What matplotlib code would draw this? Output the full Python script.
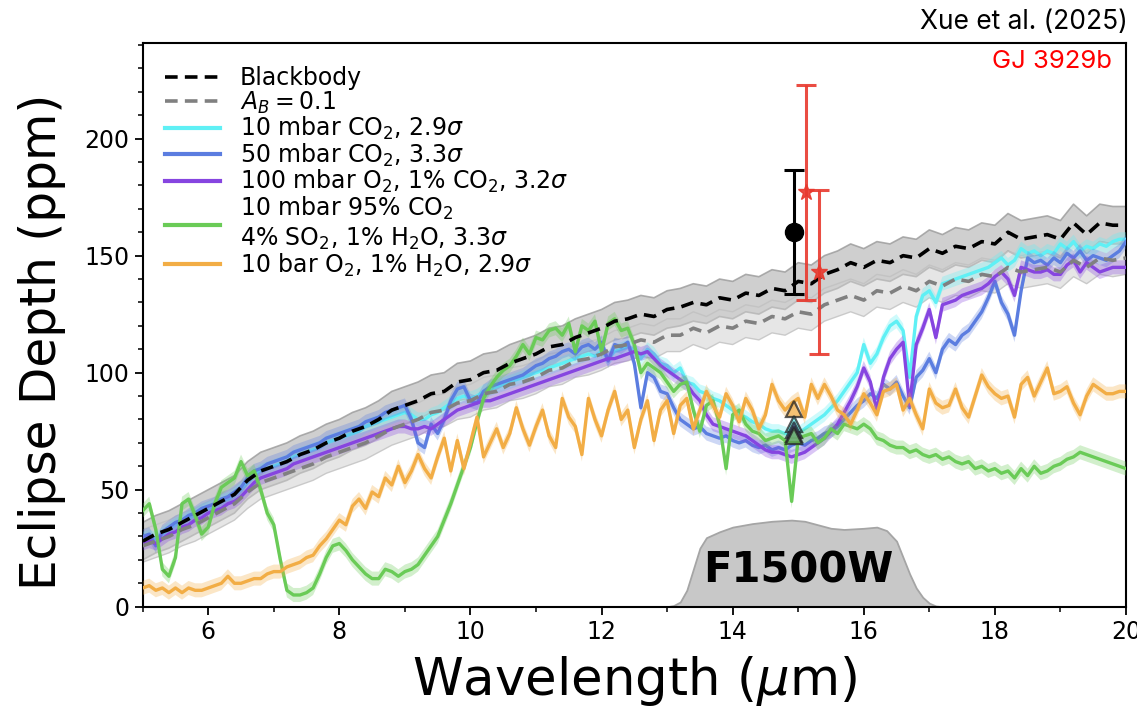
import numpy as np
import matplotlib
matplotlib.use("Agg")
import matplotlib.pyplot as plt
from matplotlib.ticker import MultipleLocator
from matplotlib.lines import Line2D

# ---------------- data ----------------
wl = np.round(np.arange(5.0, 20.0001, 0.1), 1)      # model wavelength grid (um)
wl_bb = np.round(np.arange(5.0, 20.0001, 0.2), 1)   # blackbody grid (um)

blackbody = [28, 31, 33, 36, 39,  42, 45, 48, 54, 58,  60, 62, 65, 67, 70,
             72, 75, 77, 80, 84,  86, 88, 91, 92, 96,  97, 100, 101, 104, 106,
             108, 111, 112, 115, 117,  119, 122, 123, 125, 124,  127, 128, 130, 129, 132,
             131, 134, 133, 136, 135,  139, 138, 142, 144, 147,  145, 148, 147, 150, 149,
             153, 151, 154, 153, 156,  155, 160, 157, 158, 159,  157, 164, 159, 164, 163,
             163]
albedo01 = [26, 28, 30, 33, 35,  38, 41, 44, 49, 53,  55, 57, 59, 61, 64,
            66, 68, 70, 73, 76,  78, 80, 83, 84, 87,  88, 91, 92, 95, 96,
            98, 101, 102, 105, 106,  108, 111, 112, 114, 113,  116, 116, 119, 117, 120,
            119, 122, 121, 124, 123,  126, 125, 129, 131, 133,  131, 135, 134, 137, 135,
            139, 137, 140, 139, 142,  141, 145, 143, 144, 145,  143, 148, 145, 149, 148,
            149]
bb_unc = 8
ab_unc = 7

co2_10mbar = [29, 30, 29, 31, 33, 35, 36, 38, 39, 41,
              42, 43, 45, 46, 48, 50, 53, 56, 58, 59,
              60, 61, 62, 64, 65, 66, 67, 68, 70, 71,
              72, 73, 74, 75, 77, 78, 79, 80, 81, 82,
              83, 82, 80, 80, 82, 83, 85, 87, 89, 90,
              89, 90, 92, 93, 94, 95, 96, 97, 98, 99,
              100, 101, 102, 103, 104, 105, 106, 107, 108, 107,
              109, 106, 109, 110, 111, 110, 106, 110, 108, 104,
              103, 100, 102, 96, 95, 92, 91, 89, 88, 86,
              84, 82, 81, 79, 78, 76, 75, 75, 74, 73,
              74, 76, 78, 80, 82, 85, 88, 92, 96, 100,
              112, 104, 108, 115, 120, 122, 118, 98, 124, 133,
              135, 130, 138, 139, 140, 141, 142, 143, 144, 145,
              147, 149, 146, 148, 153, 151, 152, 150, 152, 151,
              155, 153, 156, 152, 154, 153, 155, 154, 156, 157,
              157]
co2_50mbar = [30, 31, 26, 32, 34, 36, 37, 39, 40, 42,
              43, 44, 46, 47, 49, 51, 55, 58, 59, 61,
              62, 63, 64, 66, 67, 68, 69, 70, 72, 73,
              74, 75, 76, 77, 79, 80, 81, 83, 84, 85,
              86, 80, 70, 68, 78, 74, 80, 88, 93, 94,
              88, 87, 92, 94, 95, 96, 97, 98, 99, 101,
              103, 104, 106, 107, 109, 110, 108, 111, 112, 110,
              113, 105, 112, 111, 113, 104, 85, 100, 98, 92,
              91, 85, 80, 78, 76, 77, 74, 73, 72, 73,
              71, 70, 71, 69, 68, 69, 67, 68, 67, 69,
              70, 69, 71, 72, 74, 75, 77, 80, 83, 86,
              88, 91, 89, 95, 93, 96, 90, 85, 98, 101,
              106, 100, 110, 114, 112, 116, 118, 122, 126, 132,
              139, 130, 125, 116, 135, 149, 147, 148, 146, 149,
              147, 151, 149, 152, 148, 150, 149, 148, 150, 152,
              156]
o2_100mbar = [27, 28, 27, 29, 31, 32, 34, 35, 37, 38,
              40, 41, 42, 44, 45, 47, 50, 53, 55, 56,
              57, 58, 59, 61, 62, 63, 64, 65, 66, 67,
              68, 69, 70, 71, 72, 73, 74, 75, 76, 77,
              77, 76, 76, 77, 76, 78, 80, 82, 84, 85,
              86, 87, 88, 88, 89, 90, 91, 92, 93, 94,
              95, 96, 97, 98, 99, 100, 101, 102, 103, 104,
              105, 106, 106, 107, 108, 109, 108, 109, 106, 103,
              101, 99, 97, 95, 91, 88, 82, 78, 77, 76,
              75, 74, 73, 71, 69, 67, 66, 66, 65, 64,
              65, 66, 68, 70, 72, 75, 78, 83, 88, 94,
              102, 96, 84, 98, 106, 110, 113, 86, 112, 119,
              127, 115, 129, 130, 131, 133, 134, 135, 136, 138,
              141, 143, 140, 133, 145, 144, 143, 143, 144, 142,
              142, 146, 148, 143, 147, 145, 143, 144, 145, 145,
              145]
so2_mix = [41, 44, 33, 16, 13, 21, 44, 46, 39, 31,
           34, 44, 51, 53, 55, 62, 56, 58, 50, 40,
           35, 20, 7, 5, 5, 6, 8, 14, 21, 26,
           27, 24, 20, 17, 14, 12, 12, 16, 15, 13,
           15, 16, 18, 22, 26, 30, 37, 44, 52, 60,
           68, 79, 89, 94, 98, 101, 103, 107, 112, 108,
           115, 114, 118, 119, 116, 121, 109, 120, 118, 122,
           109, 121, 123, 118, 119, 112, 100, 104, 102, 100,
           96, 92, 95, 96, 84, 75, 86, 88, 78, 59,
           82, 84, 78, 75, 74, 71, 72, 73, 71, 45,
           72, 73, 74, 70, 72, 76, 74, 78, 77, 76,
           78, 76, 72, 71, 69, 68, 68, 66, 67, 65,
           64, 65, 63, 64, 62, 61, 62, 59, 60, 58,
           59, 57, 58, 55, 59, 56, 60, 57, 58, 60,
           61, 63, 64, 66, 65, 64, 63, 62, 61, 60,
           59]
o2_10bar = [8, 9, 7, 8, 6, 8, 6, 8, 7, 7,
            8, 9, 10, 13, 10, 10, 11, 12, 12, 14,
            15, 15, 17, 18, 19, 21, 22, 26, 29, 33,
            37, 35, 43, 46, 42, 49, 47, 55, 52, 60,
            53, 58, 65, 59, 55, 64, 72, 58, 71, 59,
            70, 81, 64, 70, 76, 68, 74, 85, 76, 69,
            77, 84, 73, 68, 89, 81, 77, 65, 89, 80,
            73, 84, 92, 80, 84, 68, 80, 88, 71, 84,
            88, 74, 86, 89, 76, 84, 92, 86, 81, 91,
            86, 79, 89, 84, 76, 82, 95, 88, 84, 87,
            89, 81, 95, 89, 95, 90, 84, 82, 78, 84,
            91, 87, 82, 92, 93, 95, 84, 89, 82, 76,
            93, 87, 85, 86, 93, 85, 81, 90, 99, 94,
            91, 89, 90, 81, 95, 98, 90, 96, 102, 91,
            92, 94, 87, 82, 90, 95, 93, 91, 91, 92,
            92]
model_unc = 3

# MIRI F1500W throughput (scaled to ppm for display)
filt_wl = [13.0, 13.1, 13.2, 13.3, 13.4, 13.5, 13.6, 13.8, 14.0, 14.3, 14.6, 14.9,
           15.1, 15.3, 15.5, 15.7, 16.0, 16.2, 16.35, 16.5, 16.6, 16.7, 16.8, 16.9,
           17.0, 17.1, 17.2]
filt_val = [0, 0.5, 2, 7, 16, 25, 29.5, 32, 34, 35.5, 36.5, 37,
            36.5, 35, 33.5, 33, 33.5, 34, 32.5, 28, 21, 14, 8, 4,
            1.5, 0.3, 0]

# observations
obs_black_wl = [14.93]
obs_black_val = [160]
obs_black_err = [26.5]
obs_red_wl = [15.12, 15.31]
obs_red_val = [177, 143]
obs_red_err = [46, 35]

# band-integrated model points
band_wl = [14.93, 14.93, 14.93, 14.93, 14.93]
band_val = [84.5, 78, 75.5, 74, 73]

labels = ["Blackbody", r"$A_B = 0.1$",
          r"10 mbar CO$_2$, 2.9$\sigma$",
          r"50 mbar CO$_2$, 3.3$\sigma$",
          r"100 mbar O$_2$, 1% CO$_2$, 3.2$\sigma$",
          "10 mbar 95% CO$_2$\n" + r"4% SO$_2$, 1% H$_2$O, 3.3$\sigma$",
          r"10 bar O$_2$, 1% H$_2$O, 2.9$\sigma$"]

# ---------------- styling ----------------
c_cyan = "#5ff0f5"
c_blue = "#5b7de0"
c_purple = "#8645e0"
c_green = "#6acb57"
c_orange = "#f2ad45"
c_red = "#e8392e"

fig = plt.figure(figsize=(11.37, 7.10), dpi=100)
ax = fig.add_axes([0.1255, 0.1455, 0.8648, 0.7944])

bb = np.array(blackbody, float)
ab = np.array(albedo01, float)

# filter
ax.fill_between(filt_wl, 0, filt_val, facecolor="#c8c8c8", edgecolor="#a5a5a5",
                lw=1.3, zorder=1)
ax.text(15.0, 15.5, "F1500W", fontsize=30, fontweight="bold", ha="center",
        va="center", zorder=2)

# blackbody bands
ax.fill_between(wl_bb, bb - bb_unc, bb + bb_unc, facecolor="#a8a8a8", alpha=0.55,
                lw=0, zorder=2)
ax.plot(wl_bb, bb - bb_unc, color="#9a9a9a", lw=1.2, alpha=0.8, zorder=2)
ax.plot(wl_bb, bb + bb_unc, color="#9a9a9a", lw=1.2, alpha=0.8, zorder=2)
ax.fill_between(wl_bb, ab - ab_unc, ab + ab_unc, facecolor="#cfcfcf", alpha=0.5,
                lw=0, zorder=2)
ax.plot(wl_bb, ab - ab_unc, color="#c0c0c0", lw=1.0, alpha=0.8, zorder=2)
ax.plot(wl_bb, ab + ab_unc, color="#c0c0c0", lw=1.0, alpha=0.8, zorder=2)

models = [(co2_10mbar, c_cyan), (co2_50mbar, c_blue), (o2_100mbar, c_purple),
          (so2_mix, c_green), (o2_10bar, c_orange)]
for k, (vals, col) in enumerate(models):
    v = np.array(vals, float)
    ax.fill_between(wl, v - model_unc, v + model_unc, facecolor=col, alpha=0.3,
                    lw=0, zorder=3 + k)
    ax.plot(wl, v, color=col, lw=2.4, zorder=3 + k)

dash = (0, (3.5, 2.0))
ax.plot(wl_bb, ab, color="#808080", lw=2.6, ls=dash, zorder=9)
ax.plot(wl_bb, bb, color="black", lw=2.6, ls=dash, zorder=10)

# band-integrated model triangles
tri_cols = [c_orange, c_cyan, c_blue, c_purple, c_green]
for x, y, col in zip(band_wl, band_val, tri_cols):
    ax.plot([x], [y], marker="^", ms=12, mfc=col, mec="#222222", mew=1.6,
            alpha=0.75, ls="none", zorder=11)

# observations
ax.errorbar(obs_black_wl, obs_black_val, yerr=obs_black_err, fmt="o", color="black",
            ms=13, capsize=7, elinewidth=2.2, capthick=2.2, zorder=12)
ax.errorbar(obs_red_wl, obs_red_val, yerr=obs_red_err, fmt="*", color=c_red,
            ms=12, capsize=7, elinewidth=2.2, capthick=2.2, alpha=0.9, zorder=13)

# axes
ax.set_xlim(5, 20)
ax.set_ylim(0, 241)
ax.xaxis.set_major_locator(MultipleLocator(2))
ax.xaxis.set_minor_locator(MultipleLocator(1))
ax.yaxis.set_major_locator(MultipleLocator(50))
ax.yaxis.set_minor_locator(MultipleLocator(10))
ax.tick_params(which="major", length=6, width=1.3, labelsize=17)
ax.tick_params(which="minor", length=3.5, width=1.1)
for s in ax.spines.values():
    s.set_linewidth(1.5)

ax.set_xlabel(r"Wavelength ($\mu$m)", fontsize=37, labelpad=7)
ax.set_ylabel("Eclipse Depth (ppm)", fontsize=35)
ax.yaxis.set_label_coords(-0.078, 0.47)

# legend
handles = [Line2D([], [], color="black", lw=2.6, ls=dash),
           Line2D([], [], color="#808080", lw=2.6, ls=dash),
           Line2D([], [], color=c_cyan, lw=3),
           Line2D([], [], color=c_blue, lw=3),
           Line2D([], [], color=c_purple, lw=3),
           Line2D([], [], color=c_green, lw=3),
           Line2D([], [], color=c_orange, lw=3)]
ax.legend(handles, labels, loc="upper left", bbox_to_anchor=(0.0227, 0.958),
          frameon=False, fontsize=17, handlelength=2.33, handletextpad=0.85,
          labelspacing=-0.03, borderpad=0, borderaxespad=0)

ax.text(0.9858, 0.9658, "GJ 3929b", transform=ax.transAxes, color="#ff0000",
        fontsize=18.5, family=["Inter", "DejaVu Sans"], ha="right", va="center")
fig.text(0.992, 0.969, "Xue et al. (2025)", fontsize=19,
         family=["Inter", "DejaVu Sans"], ha="right", va="center")

fig.savefig("out.png", dpi=100)
